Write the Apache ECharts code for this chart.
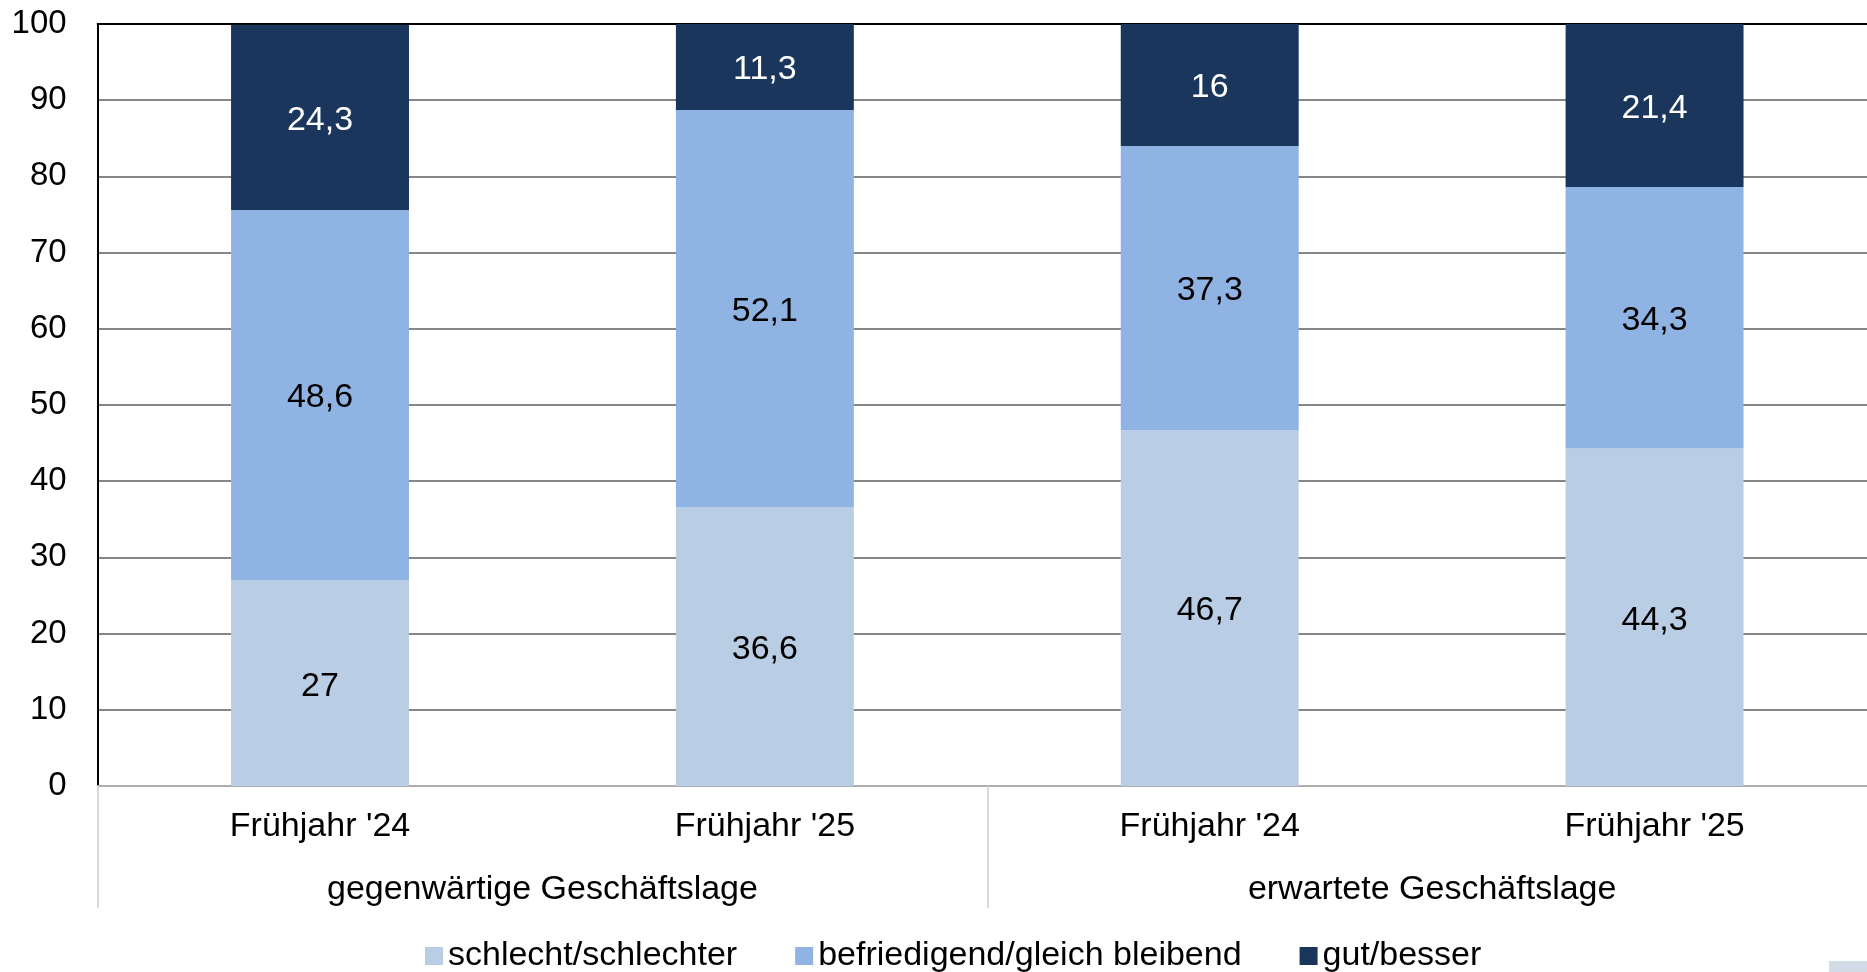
<!DOCTYPE html>
<html>
<head>
<meta charset="utf-8">
<script src="https://cdn.jsdelivr.net/npm/echarts@6/dist/echarts.min.js"></script>
<style>html,body{margin:0;padding:0;background:#fff;overflow:hidden;width:1867px;height:972px}#c{width:1877px;height:972px}</style>
</head>
<body>
<div id="c"></div>
<script>
const categories = ["Frühjahr '24", "Frühjahr '25", "Frühjahr '24", "Frühjahr '25"];
const groups = ["gegenwärtige Geschäftslage", "erwartete Geschäftslage"];
const seriesNames = ["schlecht/schlechter", "befriedigend/gleich bleibend", "gut/besser"];
const schlecht = [27, 36.6, 46.7, 44.3];
const befriedigend = [48.6, 52.1, 37.3, 34.3];
const gut = [24.3, 11.3, 16, 21.4];
const yTicks = [0, 10, 20, 30, 40, 50, 60, 70, 80, 90, 100];

const FONT = "Liberation Sans, Arial, sans-serif";
const colors = ["#B9CDE5", "#8FB3E2", "#1A365D"];
const labelColors = ["#000", "#000", "#fff"];
const values = [schlecht, befriedigend, gut];

const chart = echarts.init(document.getElementById('c'));
chart.setOption({
  animation: false,
  textStyle: { fontFamily: FONT },
  grid: { left: 97.6, right: 0, top: 24, bottom: 186, containLabel: false },
  legend: {
    left: 420, top: 934,
    itemWidth: 18, itemHeight: 18, itemGap: 58,
    icon: 'rect',
    textStyle: { fontSize: 34, color: '#000', fontFamily: FONT },
    data: seriesNames
  },
  xAxis: [
    {
      type: 'category', data: categories, position: 'bottom',
      axisLine: { show: true, lineStyle: { color: '#ADADAD', width: 2 } },
      axisTick: { show: false },
      axisLabel: { fontSize: 34, color: '#000', margin: 24, fontFamily: FONT }
    },
    {
      type: 'category', data: groups, position: 'bottom',
      axisLine: { show: false },
      axisTick: { show: true, length: 122, alignWithLabel: false, lineStyle: { color: '#D9D9D9', width: 2 } },
      axisLabel: { fontSize: 34, color: '#000', margin: 87, fontFamily: FONT }
    },
    {
      type: 'category', data: categories, position: 'top',
      axisLine: { show: true, lineStyle: { color: '#000', width: 2 } },
      axisTick: { show: false }, axisLabel: { show: false }
    }
  ],
  yAxis: {
    type: 'value', min: yTicks[0], max: yTicks[yTicks.length - 1], interval: 10,
    axisLine: { show: true, lineStyle: { color: '#000', width: 2 } },
    axisTick: { show: false },
    axisLabel: { fontSize: 33, color: '#000', margin: 31, fontFamily: FONT },
    splitLine: { show: true, lineStyle: { color: '#868686', width: 2 } }
  },
  graphic: [{
    type: 'rect', left: 1829, top: 961, shape: { width: 38, height: 11 },
    style: { fill: '#D3DCE6' }
  }],
  series: seriesNames.map((name, i) => ({
    name, type: 'bar', stack: 'total', xAxisIndex: 0,
    barWidth: '40%',
    data: values[i],
    itemStyle: { color: colors[i] },
    label: {
      show: true, position: 'inside', offset: [0, 3], fontSize: 34, color: labelColors[i], fontFamily: FONT,
      formatter: p => String(p.value).replace('.', ',')
    }
  }))
});
</script>
</body>
</html>
